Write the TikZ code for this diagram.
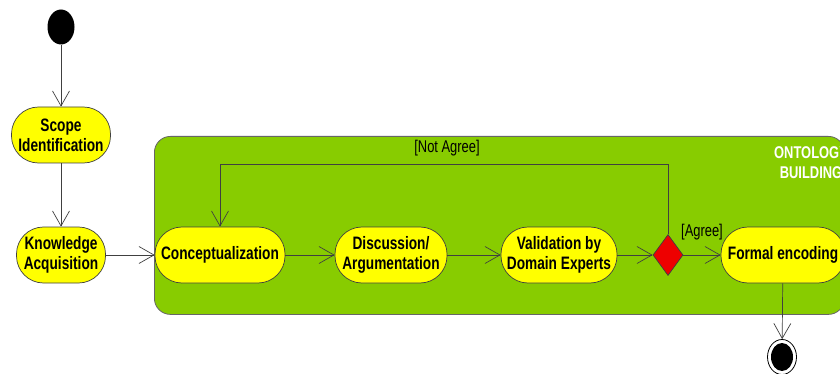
\documentclass[tikz,border=0pt]{standalone}
\usepackage{fontspec}
\setmainfont{Liberation Sans}[FakeStretch=0.76]
\usetikzlibrary{arrows.meta,shapes.geometric}
\definecolor{actfill}{HTML}{FFFF00}
\definecolor{grpfill}{HTML}{88CC00}
\definecolor{lnc}{HTML}{404040}
\definecolor{decfill}{HTML}{EE0000}
\tikzset{
  act/.style={draw=lnc, line width=0.7pt, fill=actfill, rounded corners=27pt,
    minimum height=56pt, align=center, inner sep=0pt,
    font=\fontsize{18}{20}\selectfont\bfseries},
  arr/.style={draw=lnc, line width=0.7pt, -{Straight Barb[length=15pt,width=17pt,line width=0.7pt]}},
  lbl/.style={font=\fontsize{17}{20}\selectfont, text=black, inner sep=0pt},
}
\begin{document}
\begin{tikzpicture}[x=1pt,y=-1pt]
\useasboundingbox (0,0) rectangle (840,374);
\clip (0,0) rectangle (840,374);
\fill[white] (0,0) rectangle (840,374);
% container
\node[draw=lnc!80, line width=0.8pt, fill=grpfill, rounded corners=16pt,
  minimum width=690pt, minimum height=178pt, anchor=north west, inner sep=0pt] (grp) at (154,136) {};
\node[text=white, align=center, font=\fontsize{17}{20}\selectfont\bfseries, inner sep=0pt] (grplbl) at (811,163) {ONTOLOGY\\BUILDING};
% start
\node[ellipse, fill=black, minimum width=27pt, minimum height=35pt, inner sep=0pt] (start) at (61,27) {};
% activities
\node[act, minimum width=99pt] (scope) at (61,135) {Scope\\Identification};
\node[act, minimum width=89pt] (know) at (61,255) {Knowledge\\Acquisition};
\node[act, minimum width=130pt] (conc) at (220,255) {Conceptualization};
\node[act, minimum width=112pt] (disc) at (391,255) {Discussion/\\Argumentation};
\node[act, minimum width=116pt] (val) at (559,255) {Validation by\\Domain Experts};
\node[diamond, draw=lnc, line width=0.7pt, fill=decfill, minimum width=30pt, minimum height=41pt, inner sep=0pt, aspect=0.73] (dec) at (668,255) {};
\node[act, minimum width=124pt] (form) at (783,255) {Formal encoding};
% end
\node[ellipse, draw=black, line width=0.8pt, fill=white, minimum width=29pt, minimum height=35pt, inner sep=0pt] (endo) at (782,357) {};
\node[ellipse, fill=black, minimum width=22pt, minimum height=28pt, inner sep=0pt] (endi) at (782,357) {};
% connectors
\draw[arr] (start) -- (scope);
\draw[arr] (scope) -- (know);
\draw[arr] (know) -- (conc);
\draw[arr] (conc) -- (disc);
\draw[arr] (disc) -- (val);
\draw[arr] (val) -- (dec);
\draw[arr] (dec) -- (form);
\draw[arr] (form) -- (endo);
\coordinate (loopy) at (668,164);
\draw[arr] (dec.north) -- (loopy) -| (conc.north);
\node[lbl] (na) at (447,148) {[Not Agree]};
\node[lbl] (ag) at (702,232) {[Agree]};
\end{tikzpicture}
\end{document}
